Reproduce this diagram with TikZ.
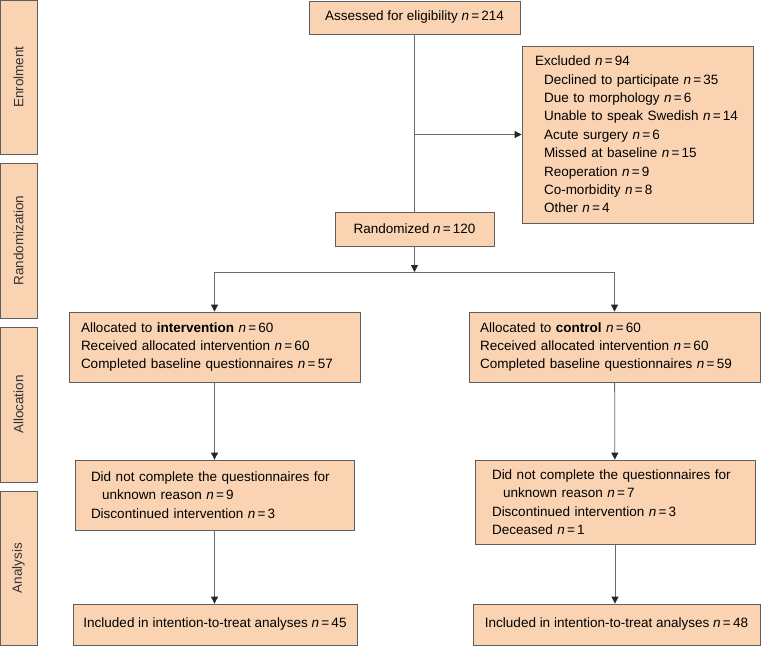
\documentclass[tikz,border=0pt]{standalone}
\usepackage{fontspec}
\setmainfont{Liberation Sans}
\usetikzlibrary{arrows.meta}
\definecolor{boxfill}{HTML}{FAD4B2}
\definecolor{boxedge}{HTML}{5E5E5E}
\definecolor{flowline}{HTML}{6A6A6A}
\newcommand{\ncount}[1]{\textit{n}\,=\,#1}
\tikzset{
  stage/.style={draw=boxedge, fill=boxfill, line width=0.8pt, inner sep=0pt},
  phase/.style={stage, rotate=90, minimum height=37pt, text=black!80, font=\fontsize{13.5}{15}\selectfont},
  textbox/.style={stage, align=left, font=\fontsize{13.5}{18.4}\selectfont},
  flow/.style={draw=flowline, line width=0.8pt},
  flowarrow/.style={flow, -{Triangle[width=7pt,length=7pt,color=black!85]}}
}
\begin{document}
\begin{tikzpicture}[x=1pt, y=-1pt]
    \useasboundingbox (0,0) rectangle (761,646);
    % phase labels on the left
    \node[phase, minimum width=154pt] (enrol) at (18.5, 77) {Enrolment};
    \node[phase, minimum width=155pt] (random) at (18.5, 240.5) {Randomization};
    \node[phase, minimum width=155pt] (alloc) at (18.5, 404.5) {Allocation};
    \node[phase, minimum width=154pt] (analys) at (18.5, 568) {Analysis};
    % flow boxes
    \node[textbox, align=center, minimum width=211pt, minimum height=33pt] (assess) at (414.5, 17.5) {Assessed for eligibility \ncount{214}};
    \node[textbox, text width=205pt, inner xsep=13pt, minimum height=177pt] (excl) at (637.5, 134.5) {Excluded \ncount{94}\\
      \hspace*{9pt}Declined to participate \ncount{35}\\
      \hspace*{9pt}Due to morphology \ncount{6}\\
      \hspace*{9pt}Unable to speak Swedish \ncount{14}\\
      \hspace*{9pt}Acute surgery \ncount{6}\\
      \hspace*{9pt}Missed at baseline \ncount{15}\\
      \hspace*{9pt}Reoperation \ncount{9}\\
      \hspace*{9pt}Co-morbidity \ncount{8}\\
      \hspace*{9pt}Other \ncount{4}};
    \node[textbox, align=center, minimum width=159pt, minimum height=34pt] (rand) at (414.5, 229) {Randomized \ncount{120}};
    \node[textbox, text width=267pt, inner xsep=12pt, minimum height=70pt] (intv) at (214.5, 347) {Allocated to \textbf{intervention} \ncount{60}\\
      Received allocated intervention \ncount{60}\\
      Completed baseline questionnaires \ncount{57}};
    \node[textbox, text width=269pt, inner xsep=11pt, minimum height=70pt] (ctrl) at (614.5, 347) {Allocated to \textbf{control} \ncount{60}\\
      Received allocated intervention \ncount{60}\\
      Completed baseline questionnaires \ncount{59}};
    \node[textbox, text width=247pt, inner xsep=16pt, minimum height=70pt] (lossi) at (214.5, 495) {Did not complete the questionnaires for\\
      \hspace*{11pt}unknown reason \ncount{9}\\
      Discontinued intervention \ncount{3}};
    \node[textbox, text width=246pt, inner xsep=17pt, minimum height=84pt] (lossc) at (615, 502) {Did not complete the questionnaires for\\
      \hspace*{11pt}unknown reason \ncount{7}\\
      Discontinued intervention \ncount{3}\\
      Deceased \ncount{1}};
    \node[textbox, align=center, minimum width=284pt, minimum height=41pt] (itti) at (215, 624.5) {Included in intention-to-treat analyses \ncount{45}};
    \node[textbox, align=center, minimum width=287pt, minimum height=41pt] (ittc) at (616.5, 624.5) {Included in intention-to-treat analyses \ncount{48}};
    % connectors
    \coordinate (exsplit) at (assess.south |- excl.west);
    \coordinate (split) at (414.5, 272);
    \draw[flow] (assess) -- (rand);
    \draw[flowarrow] (exsplit) -- (excl);
    \draw[flowarrow] (rand) -- (split);
    \draw[flow] (split -| intv) -- (split -| ctrl);
    \draw[flowarrow] (split -| intv) -- (intv);
    \draw[flowarrow] (split -| ctrl) -- (ctrl);
    \draw[flowarrow] (intv) -- (lossi);
    \draw[flowarrow] (ctrl) -- (lossc);
    \draw[flowarrow] (lossi) -- (lossi |- itti.north);
    \draw[flowarrow] (lossc) -- (lossc |- ittc.north);
\end{tikzpicture}
\end{document}
